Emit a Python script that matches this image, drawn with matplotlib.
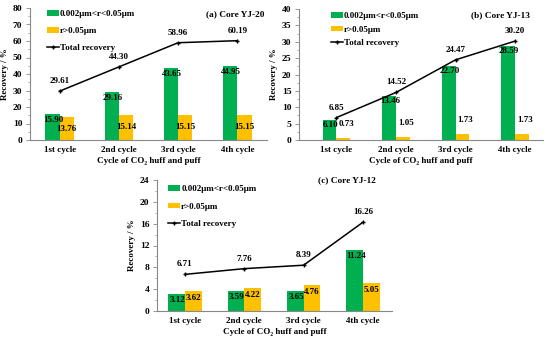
import matplotlib
matplotlib.use("Agg")
import matplotlib.pyplot as plt
import numpy as np

plt.rcParams['font.family'] = ['Liberation Serif', 'DejaVu Serif']
plt.rcParams['font.weight'] = 'bold'

cycles = ["1st cycle", "2nd cycle", "3rd cycle", "4th cycle"]
legend_labels = ["0.002\u03bcm<r<0.05\u03bcm", "r>0.05\u03bcm", "Total recovery"]

# (a) Core YJ-20
a_fine = [15.90, 29.16, 43.65, 44.95]
a_coarse = [13.76, 15.14, 15.15, 15.15]
a_total = [29.61, 44.30, 58.96, 60.19]

# (b) Core YJ-13
b_fine = [6.10, 13.46, 22.70, 28.59]
b_coarse = [0.73, 1.05, 1.73, 1.73]
b_total = [6.85, 14.52, 24.47, 30.20]

# (c) Core YJ-12
c_fine = [3.12, 3.59, 3.65, 11.24]
c_coarse = [3.62, 4.22, 4.76, 5.05]
c_total = [6.71, 7.76, 8.39, 16.26]

green = "#00B050"
yellow = "#FFC000"
W, H = 550, 342
FS = 6.5

fig = plt.figure(figsize=(5.5, 3.42), dpi=100)


def px_axes(left, right, top, bottom):
    return fig.add_axes([left / W, (H - bottom) / H, (right - left) / W, (bottom - top) / H])


def panel(ax, fine, coarse, total, title, ymax, ystep, xlim, bw,
          yoff_fine, coarse_off, title_pos, leg_anchor, leg_space):
    x = np.arange(len(cycles))
    b1 = ax.bar(x - bw / 2, fine, bw, color=green, label=legend_labels[0])
    b2 = ax.bar(x + bw / 2, coarse, bw, color=yellow, label=legend_labels[1])
    ln, = ax.plot(x, total, color="black", lw=1.1, marker="+", ms=3.5, mew=1.0,
                  label=legend_labels[2])
    for xi, v in zip(x, fine):
        ax.annotate("%.2f" % v, (xi - bw / 2, v), xytext=(1, yoff_fine),
                    textcoords="offset pixels", ha="center", va="center",
                    fontsize=FS, fontweight="bold")
    for xi, v in zip(x, coarse):
        ax.annotate("%.2f" % v, (xi + bw / 2, v), xytext=coarse_off,
                    textcoords="offset pixels", ha="center", va="center",
                    fontsize=FS, fontweight="bold")
    for xi, v in zip(x, total):
        ax.annotate("%.2f" % v, (xi, v), xytext=(0, 10),
                    textcoords="offset pixels", ha="center", va="center",
                    fontsize=FS, fontweight="bold")
    ax.set_xlim(*xlim)
    ax.set_ylim(0, ymax)
    ax.set_yticks(np.arange(0, ymax + 0.01, ystep))
    ax.set_yticks(np.arange(0, ymax + 0.01, ystep / 2), minor=True)
    ax.set_xticks(x)
    ax.set_xticklabels(cycles)
    ax.tick_params(axis="x", length=0, labelsize=FS, pad=4.5)
    ax.tick_params(axis="y", which="major", length=3, width=0.6, color="#888888",
                   labelsize=FS + 0.3, pad=2.5)
    ax.tick_params(axis="y", which="minor", length=1.5, width=0.5, color="#888888")
    for lab in ax.get_xticklabels() + ax.get_yticklabels():
        lab.set_fontweight("bold")
    for s in ["top", "right"]:
        ax.spines[s].set_visible(False)
    for s in ["left", "bottom"]:
        ax.spines[s].set_color("#888888")
        ax.spines[s].set_linewidth(0.8)
    ax.set_ylabel("Recovery / %", fontsize=FS, fontweight="bold", labelpad=3)
    ax.set_xlabel("Cycle of CO\u2082 huff and puff", fontsize=FS, fontweight="bold",
                  labelpad=2)
    ax.text(title_pos[0], title_pos[1], title, transform=ax.transAxes, ha="right",
            va="center", fontsize=FS + 0.2, fontweight="bold")
    ax.legend(handles=[b1, b2, ln], loc="upper left", bbox_to_anchor=leg_anchor,
              frameon=False, handlelength=1.35, handleheight=0.55,
              handletextpad=0.1, labelspacing=leg_space, borderaxespad=0,
              borderpad=0, prop={"weight": "bold", "size": FS})


ax_a = px_axes(30, 267, 8, 140)
panel(ax_a, a_fine, a_coarse, a_total, "(a) Core YJ-20", 80, 10, (-0.5, 3.5), 0.24,
      -6, (0, -12), (0.99, 0.955), (0.07, 0.985), 1.0)

ax_b = px_axes(299, 543, 9, 140)
panel(ax_b, b_fine, b_coarse, b_total, "(b) Core YJ-13", 40, 5, (-0.63, 3.47), 0.23,
      -5, (3, 14), (0.947, 0.954), (0.13, 0.975), 0.6)

ax_c = px_axes(157, 392, 180, 311)
panel(ax_c, c_fine, c_coarse, c_total, "(c) Core YJ-12", 24, 4, (-0.47, 3.49), 0.28,
      -6, (0, -7), (0.93, 1.0), (0.047, 0.96), 1.05)

fig.savefig("out.png", dpi=100)
